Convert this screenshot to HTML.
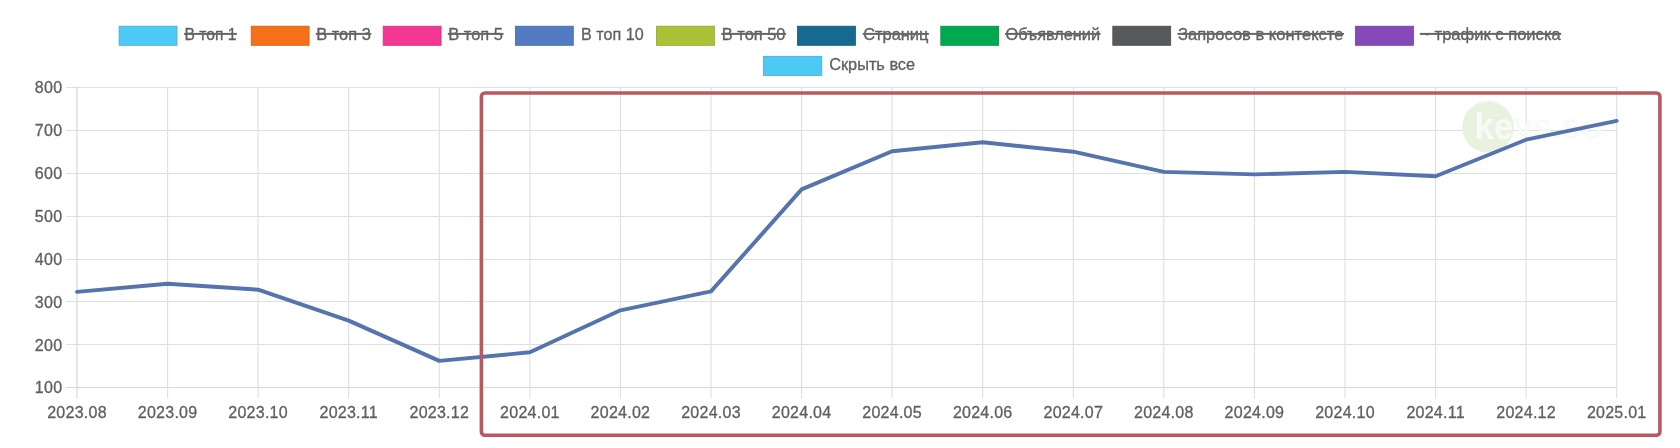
<!DOCTYPE html><html><head><meta charset="utf-8"><style>
html,body{margin:0;padding:0;background:#fff;width:1680px;height:448px;overflow:hidden}
svg{display:block;will-change:transform}
text{font-family:"Liberation Sans",sans-serif;font-size:16px;fill:#606060;stroke:#606060;stroke-width:0.3px}
.ax{letter-spacing:0.25px}
</style></head><body>
<svg width="1680" height="448" viewBox="0 0 1680 448">

<rect x="119.1" y="26.2" width="57.9" height="19.1" fill="#4dc9f6" stroke="#42acd3" stroke-width="0.8"/>
<text x="184.6" y="40.2" textLength="51.7" lengthAdjust="spacingAndGlyphs">В топ 1</text>
<rect x="184.1" y="32.9" width="52.7" height="2" fill="#666"/>
<rect x="251.2" y="26.2" width="57.9" height="19.1" fill="#f67019" stroke="#d36015" stroke-width="0.8"/>
<text x="316.3" y="40.2" textLength="54.5" lengthAdjust="spacingAndGlyphs">В топ 3</text>
<rect x="315.8" y="32.9" width="55.5" height="2" fill="#666"/>
<rect x="383.2" y="26.2" width="57.9" height="19.1" fill="#f53794" stroke="#d22f7f" stroke-width="0.8"/>
<text x="448.3" y="40.2" textLength="54.7" lengthAdjust="spacingAndGlyphs">В топ 5</text>
<rect x="447.8" y="32.9" width="55.7" height="2" fill="#666"/>
<rect x="515.4" y="26.2" width="57.9" height="19.1" fill="#537bc4" stroke="#4769a8" stroke-width="0.8"/>
<text x="581.1" y="40.2" textLength="62.7" lengthAdjust="spacingAndGlyphs">В топ 10</text>
<rect x="656.5" y="26.2" width="57.9" height="19.1" fill="#acc236" stroke="#93a62e" stroke-width="0.8"/>
<text x="721.8" y="40.2" textLength="63.7" lengthAdjust="spacingAndGlyphs">В топ 50</text>
<rect x="721.3" y="32.9" width="64.7" height="2" fill="#666"/>
<rect x="797.5" y="26.2" width="57.9" height="19.1" fill="#166a8f" stroke="#125b7a" stroke-width="0.8"/>
<text x="863.2" y="40.2" textLength="65.2" lengthAdjust="spacingAndGlyphs">Страниц</text>
<rect x="862.7" y="32.9" width="66.2" height="2" fill="#666"/>
<rect x="940.8" y="26.2" width="57.9" height="19.1" fill="#00a950" stroke="#009144" stroke-width="0.8"/>
<text x="1005.5" y="40.2" textLength="94.5" lengthAdjust="spacingAndGlyphs">Объявлений</text>
<rect x="1005.0" y="32.9" width="95.5" height="2" fill="#666"/>
<rect x="1112.8" y="26.2" width="57.9" height="19.1" fill="#58595b" stroke="#4b4c4e" stroke-width="0.8"/>
<text x="1178.0" y="40.2" textLength="165.4" lengthAdjust="spacingAndGlyphs">Запросов в контексте</text>
<rect x="1177.5" y="32.9" width="166.4" height="2" fill="#666"/>
<rect x="1355.5" y="26.2" width="57.9" height="19.1" fill="#8549ba" stroke="#723e9f" stroke-width="0.8"/>
<text x="1420.3" y="40.2" textLength="140.4" lengthAdjust="spacingAndGlyphs">~ трафик с поиска</text>
<rect x="1419.8" y="32.9" width="141.4" height="2" fill="#666"/>
<rect x="763.6" y="56.3" width="58.2" height="19.1" fill="#4dc9f6" stroke="#42acd3" stroke-width="0.8"/>
<text x="829.2" y="70.2" textLength="85.9" lengthAdjust="spacingAndGlyphs">Скрыть все</text>
<path d="M66 87.5H1617.2 M66 130.5H1617.2 M66 173.5H1617.2 M66 216.5H1617.2 M66 259.5H1617.2 M66 301.5H1617.2 M66 344.5H1617.2 M167.6 87.1V398.6 M258.1 87.1V398.6 M348.7 87.1V398.6 M439.3 87.1V398.6 M529.9 87.1V398.6 M620.4 87.1V398.6 M711.0 87.1V398.6 M801.6 87.1V398.6 M892.1 87.1V398.6 M982.7 87.1V398.6 M1073.3 87.1V398.6 M1163.8 87.1V398.6 M1254.4 87.1V398.6 M1345.0 87.1V398.6 M1435.6 87.1V398.6 M1526.1 87.1V398.6 M1616.7 87.1V398.6" stroke="#dfdfdf" stroke-width="1.1" fill="none"/>
<path d="M66 387.5H1617.2 M77.0 87.1V398.6" stroke="#d8d8d8" stroke-width="1.2" fill="none"/>
<text class="ax" x="62.3" y="93.4" text-anchor="end">800</text>
<text class="ax" x="62.3" y="136.3" text-anchor="end">700</text>
<text class="ax" x="62.3" y="179.1" text-anchor="end">600</text>
<text class="ax" x="62.3" y="222.0" text-anchor="end">500</text>
<text class="ax" x="62.3" y="264.8" text-anchor="end">400</text>
<text class="ax" x="62.3" y="307.7" text-anchor="end">300</text>
<text class="ax" x="62.3" y="350.5" text-anchor="end">200</text>
<text class="ax" x="62.3" y="393.4" text-anchor="end">100</text>
<text class="ax" x="77.0" y="418" text-anchor="middle">2023.08</text>
<text class="ax" x="167.6" y="418" text-anchor="middle">2023.09</text>
<text class="ax" x="258.1" y="418" text-anchor="middle">2023.10</text>
<text class="ax" x="348.7" y="418" text-anchor="middle">2023.11</text>
<text class="ax" x="439.3" y="418" text-anchor="middle">2023.12</text>
<text class="ax" x="529.9" y="418" text-anchor="middle">2024.01</text>
<text class="ax" x="620.4" y="418" text-anchor="middle">2024.02</text>
<text class="ax" x="711.0" y="418" text-anchor="middle">2024.03</text>
<text class="ax" x="801.6" y="418" text-anchor="middle">2024.04</text>
<text class="ax" x="892.1" y="418" text-anchor="middle">2024.05</text>
<text class="ax" x="982.7" y="418" text-anchor="middle">2024.06</text>
<text class="ax" x="1073.3" y="418" text-anchor="middle">2024.07</text>
<text class="ax" x="1163.8" y="418" text-anchor="middle">2024.08</text>
<text class="ax" x="1254.4" y="418" text-anchor="middle">2024.09</text>
<text class="ax" x="1345.0" y="418" text-anchor="middle">2024.10</text>
<text class="ax" x="1435.6" y="418" text-anchor="middle">2024.11</text>
<text class="ax" x="1526.1" y="418" text-anchor="middle">2024.12</text>
<text class="ax" x="1616.7" y="418" text-anchor="middle">2025.01</text>
<circle cx="1488" cy="127" r="25.8" fill="#e8f2df"/>
<text x="1474.5" y="139" textLength="128" lengthAdjust="spacingAndGlyphs" style="font-size:37px;font-weight:bold;fill:#f9faf8;stroke:none">keys.so</text>
<polyline points="77.0,291.9 167.6,283.7 258.1,289.7 348.7,320.6 439.3,360.9 529.9,352.3 620.4,310.3 711.0,291.4 801.6,189.4 892.1,151.3 982.7,142.3 1073.3,151.7 1163.8,171.9 1254.4,174.4 1345.0,171.9 1435.6,176.2 1526.1,139.7 1616.7,120.9" fill="none" stroke="#5573ad" stroke-width="3.9" stroke-linejoin="round" stroke-linecap="round"/>
<rect x="481.4" y="93" width="1178.5" height="342.3" rx="3.5" fill="none" stroke="#bc585d" stroke-width="3.6"/>
</svg></body></html>
